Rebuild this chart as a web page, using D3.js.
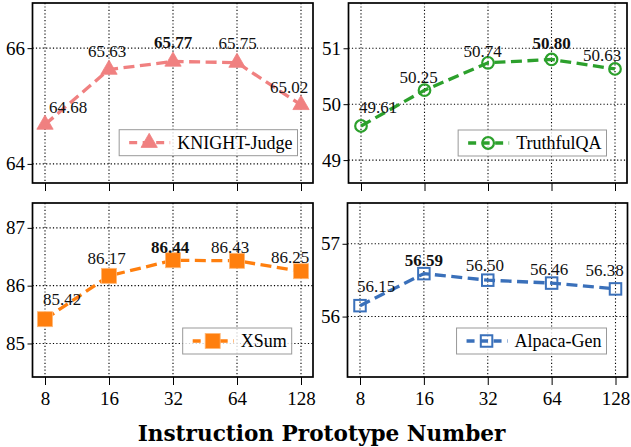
<!DOCTYPE html>
<html><head><meta charset="utf-8">
<script src="https://cdn.jsdelivr.net/npm/d3@7"></script>
<style>body{margin:0;background:#fff} svg{display:block}</style>
</head><body><svg id="c" width="631" height="447"></svg>
<script>
// ---- data ----
const prototypeNumbers = ["8", "16", "32", "64", "128"];
const knightJudge = [64.68, 65.63, 65.77, 65.75, 65.02];
const truthfulQA  = [49.61, 50.25, 50.74, 50.80, 50.63];
const xsum        = [85.42, 86.17, 86.44, 86.43, 86.25];
const alpacaGen   = [56.15, 56.59, 56.50, 56.46, 56.38];
const seriesNames = ["KNIGHT-Judge", "TruthfulQA", "XSum", "Alpaca-Gen"];
const yTicksKnight = [64, 66];
const yTicksTruthful = [49, 50, 51];
const yTicksXsum = [85, 86, 87];
const yTicksAlpaca = [56, 57];
const xAxisTitle = "Instruction Prototype Number";

// ---- layout ----
const panels = [
  {name: seriesNames[0], values: knightJudge, yDomain: [63.67, 66.78], yTicks: yTicksKnight,
   color: "#F08080", marker: "triangle", box: [32.5, 3, 313, 183], showX: false, legendInset: [15.5, 27.3],
   dx: [23, -2, 0, 0.5, -12], dy: [11.3, 12.2, 13, 14, 12]},
  {name: seriesNames[1], values: truthfulQA, yDomain: [48.59, 51.81], yTicks: yTicksTruthful,
   color: "#2CA02C", marker: "circle", box: [348.5, 3, 627, 183], showX: false, legendInset: [20.5, 27],
   dx: [17, -6, -5.5, 0, -13], dy: [12.8, 7, 5.6, 10, 8]},
  {name: seriesNames[2], values: xsum, yDomain: [84.42, 87.43], yTicks: yTicksXsum,
   color: "#FF7F0E", marker: "square", box: [32.5, 203, 313, 377], showX: true, legendInset: [21.3, 23],
   dx: [17, -2.5, -3, -7, -11], dy: [14.3, 11.8, 7.5, 8, 8.5]},
  {name: seriesNames[3], values: alpacaGen, yDomain: [55.17, 57.56], yTicks: yTicksAlpaca,
   color: "#3A70BA", marker: "opensquare", box: [347.5, 203, 627.5, 377], showX: true, legendInset: [21, 23],
   dx: [16, 0, -3, -2.6, -11], dy: [14, 7.8, 9.4, 8.3, 13]}
];

const FONT = "'Liberation Serif', 'Times New Roman', serif";
const svg = d3.select("#c");

function drawMarker(sel, type, color, cx, cy) {
  if (type === "triangle") {
    sel.append("path").attr("d", d3.symbol(d3.symbolTriangle, 115)())
      .attr("transform", `translate(${cx},${cy})`).attr("fill", color).attr("stroke", color).attr("stroke-width", 0.8);
  } else if (type === "circle") {
    sel.append("circle").attr("cx", cx).attr("cy", cy).attr("r", 5.8)
      .attr("fill", "none").attr("stroke", color).attr("stroke-width", 2.2);
  } else if (type === "square") {
    const s = 15;
    sel.append("rect").attr("x", cx - s / 2).attr("y", cy - s / 2).attr("width", s).attr("height", s)
      .attr("fill", color).attr("stroke", "#ffb877").attr("stroke-width", 0.8);
  } else {
    const s = 11.5;
    sel.append("rect").attr("x", cx - s / 2).attr("y", cy - s / 2).attr("width", s).attr("height", s)
      .attr("fill", "none").attr("stroke", color).attr("stroke-width", 2);
  }
}

panels.forEach(p => {
  const [x0, y0, x1, y1] = p.box;
  const g = svg.append("g");
  const x = d3.scalePoint().domain(prototypeNumbers).range([x0 + 12.5, x1 - 12]);
  const y = d3.scaleLinear().domain(p.yDomain).range([y1, y0]);

  // grid
  const grid = g.append("g").attr("stroke", "#000").attr("stroke-width", 1.1).attr("stroke-dasharray", "1.2,2.2");
  prototypeNumbers.forEach(d => grid.append("line").attr("x1", x(d)).attr("x2", x(d)).attr("y1", y0).attr("y2", y1));
  p.yTicks.forEach(t => grid.append("line").attr("x1", x0).attr("x2", x1).attr("y1", y(t)).attr("y2", y(t)));

  // axes
  const xa = g.append("g").attr("transform", `translate(0,${y1})`)
    .call(d3.axisBottom(x).tickSize(8).tickPadding(7).tickFormat(p.showX ? (d => d) : () => ""));
  const ya = g.append("g").attr("transform", `translate(${x0},0)`)
    .call(d3.axisLeft(y).tickValues(p.yTicks).tickSize(5).tickPadding(2.5).tickFormat(d3.format("d")));
  [xa, ya].forEach(a => {
    a.select(".domain").remove();
    a.selectAll("line").attr("stroke", "#000").attr("stroke-width", 1);
    a.selectAll("text").attr("font-family", FONT).attr("font-size", 19).attr("fill", "#000");
  });

  // line
  const line = d3.line().x((d, i) => x(prototypeNumbers[i])).y(d => y(d));
  g.append("path").datum(p.values).attr("d", line).attr("fill", "none")
    .attr("stroke", p.color).attr("stroke-width", 3.3).attr("stroke-dasharray", "11,5.5");

  // markers
  const mg = g.append("g");
  p.values.forEach((v, i) => drawMarker(mg, p.marker, p.color, x(prototypeNumbers[i]), y(v)));

  // value labels
  const maxV = d3.max(p.values);
  p.values.forEach((v, i) => {
    g.append("text").attr("x", x(prototypeNumbers[i]) + p.dx[i]).attr("y", y(v) - p.dy[i])
      .attr("text-anchor", "middle").attr("font-family", FONT).attr("font-size", 17)
      .attr("font-weight", v === maxV ? "bold" : "normal").attr("fill", "#111")
      .text(v.toFixed(2));
  });

  // legend
  const lg = g.append("g");
  const box = lg.append("rect");
  const txt = lg.append("text").attr("font-family", FONT).attr("font-size", 18).attr("fill", "#000").text(p.name);
  const tw = txt.node().getComputedTextLength();
  const bw = tw + 63, bh = 26;
  const bx = x1 - p.legendInset[0] - bw, by = y1 - p.legendInset[1] - bh;
  box.attr("x", bx).attr("y", by).attr("width", bw).attr("height", bh)
    .attr("fill", "#fff").attr("fill-opacity", 0.8).attr("stroke", "#999").attr("stroke-width", 1);
  const cy = by + bh / 2;
  lg.append("line").attr("x1", bx + 9).attr("x2", bx + 51).attr("y1", cy).attr("y2", cy)
    .attr("stroke", p.color).attr("stroke-width", 3.3).attr("stroke-dasharray", "8,5.5").attr("stroke-dashoffset", -1);
  drawMarker(lg, p.marker, p.color, bx + 30, cy);
  txt.attr("x", bx + 58).attr("y", cy + 6);
  txt.raise();

  // frame
  g.append("rect").attr("x", x0).attr("y", y0).attr("width", x1 - x0).attr("height", y1 - y0)
    .attr("fill", "none").attr("stroke", "#000").attr("stroke-width", 1.7);
});

svg.append("text").attr("x", 321.5).attr("y", 441).attr("text-anchor", "middle")
  .attr("font-family", "'DejaVu Serif', serif").attr("font-weight", "bold").attr("font-size", 21.6)
  .attr("fill", "#000").text(xAxisTitle);
</script></body></html>
